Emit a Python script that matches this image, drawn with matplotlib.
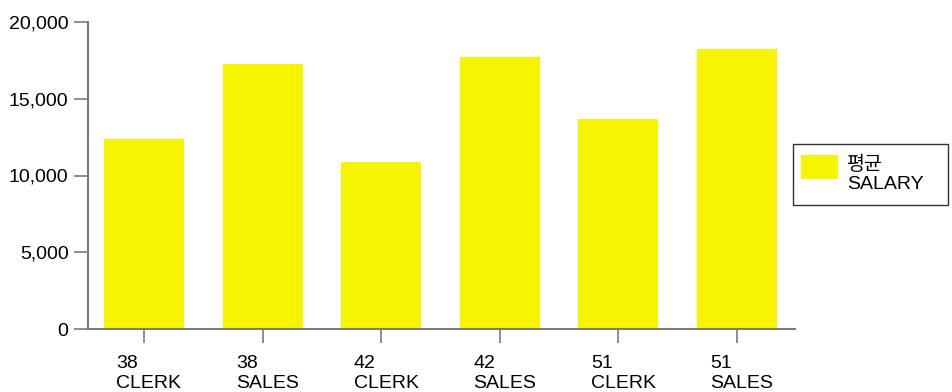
import matplotlib
matplotlib.use("Agg")
import matplotlib.pyplot as plt
import matplotlib.transforms as mtransforms
from matplotlib.patches import Rectangle
from matplotlib.container import BarContainer
from matplotlib.legend_handler import HandlerPatch
from matplotlib.ticker import FuncFormatter

# Average salary per department / job
categories = ["38\nCLERK", "38\nSALES", "42\nCLERK", "42\nSALES", "51\nCLERK", "51\nSALES"]
avg_salary = [12400, 17250, 10900, 17700, 13700, 18250]
series_label = "평균\nSALARY"
y_ticks = [0, 5000, 10000, 15000, 20000]

plt.rcParams["font.family"] = ["Liberation Sans", "Noto Sans CJK KR", "DejaVu Sans"]

W, H, DPI = 953, 392, 100
fig = plt.figure(figsize=(W / DPI, H / DPI), dpi=DPI)
ax = fig.add_axes([88 / W, 1 - 329 / H, (795 - 88) / W, (329 - 22) / H])

bar_color = "#F7F400"
x = range(len(categories))
ax.bar(x, avg_salary, width=0.675, color=bar_color, label=series_label, zorder=2)

ax.set_xlim(-0.472, 5.49)
ax.set_ylim(0, 20000)
ax.set_yticks(y_ticks)
ax.yaxis.set_major_formatter(FuncFormatter(lambda v, p: f"{int(v):,}"))
ax.set_xticks(list(x))
ax.set_xticklabels(categories, multialignment="left")

axis_color = "#7a7a7a"
for side in ("top", "right"):
    ax.spines[side].set_visible(False)
for side in ("left", "bottom"):
    ax.spines[side].set_color(axis_color)
    ax.spines[side].set_linewidth(1.5)

ax.tick_params(axis="y", direction="out", length=10, width=1.2, color=axis_color,
               labelsize=14, pad=4, labelcolor="black")
ax.tick_params(axis="x", direction="out", length=10, width=1.2, color=axis_color,
               labelsize=14, pad=9, labelcolor="black")

# nudge category labels slightly right
offset = mtransforms.ScaledTranslation(5 / DPI, 0, fig.dpi_scale_trans)
for lbl in ax.get_xticklabels():
    lbl.set_transform(lbl.get_transform() + offset)


def top_swatch(legend, orig_handle, xdescent, ydescent, width, height, fontsize):
    # swatch sits level with the first line of the label
    sw_h = 1.235 * fontsize
    y0 = -ydescent + height + 0.46 * fontsize - sw_h
    return Rectangle((-xdescent - 0.2 * fontsize, y0), width, sw_h)


def style_swatch(legend_handle, orig_handle):
    legend_handle.update_from(orig_handle[0])


leg = ax.legend(loc="upper left",
                bbox_to_anchor=(793 / W, 1 - 204 / H, 155 / W, 60 / H),
                bbox_transform=fig.transFigure, borderaxespad=0, mode="expand",
                fontsize=14, frameon=True, fancybox=False,
                handlelength=1.9, handleheight=1.25, handletextpad=0.3,
                borderpad=0.6, labelspacing=0.3,
                handler_map={BarContainer: HandlerPatch(patch_func=top_swatch,
                                                        update_func=style_swatch)})
frame = leg.get_frame()
frame.set_edgecolor("#333333")
frame.set_linewidth(1.0)
frame.set_alpha(1)

fig.savefig("out.png", dpi=DPI)
